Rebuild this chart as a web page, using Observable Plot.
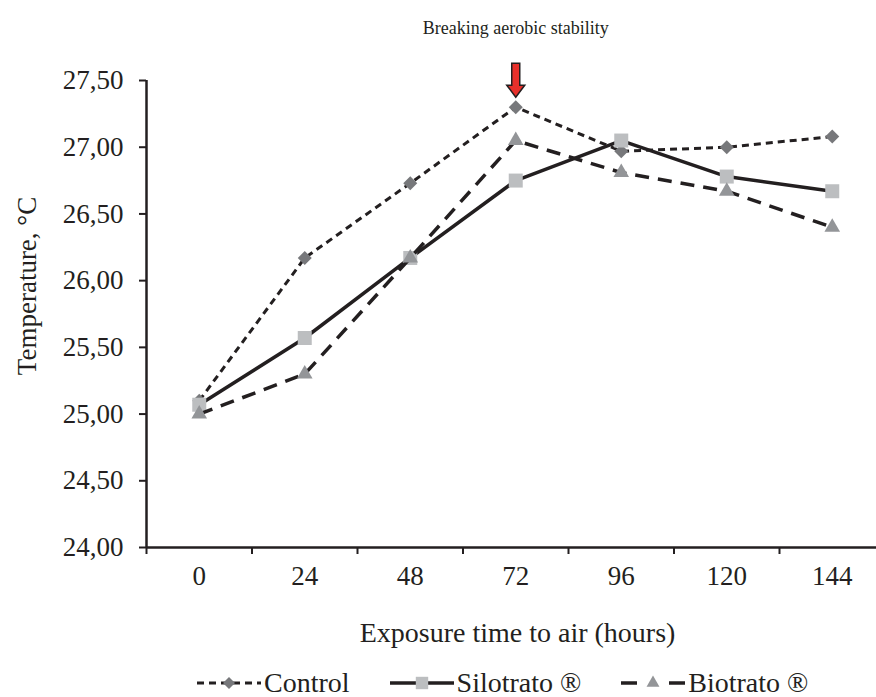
<!DOCTYPE html>
<html><head><meta charset="utf-8">
<script src="https://cdn.jsdelivr.net/npm/d3@7"></script>
<script src="https://cdn.jsdelivr.net/npm/@observablehq/plot@0.6"></script>
<style>
body{margin:0;background:#fff;font-family:"Liberation Serif","Times New Roman",serif;color:#231f20;}
#wrap{position:relative;width:876px;height:697px;overflow:hidden;}
#legend{position:absolute;top:667px;left:197px;display:flex;align-items:center;gap:40px;font-size:28px;line-height:32px;}
.item{display:flex;align-items:center;gap:3px;}
.item svg{display:block;}
</style></head><body><div id="wrap"><div id="chart"></div><div id="legend"></div></div>
<script>
const hours = [0, 24, 48, 72, 96, 120, 144];
const control = [25.10, 26.17, 26.73, 27.30, 26.97, 27.00, 27.08];
const silotrato = [25.07, 25.57, 26.17, 26.75, 27.05, 26.78, 26.67];
const biotrato = [25.00, 25.30, 26.17, 27.05, 26.81, 26.67, 26.40];
const seriesNames = ["Control", "Silotrato ®", "Biotrato ®"];
const yTicks = [24, 24.5, 25, 25.5, 26, 26.5, 27, 27.5];
const xTickBounds = [-12, 12, 36, 60, 84, 108, 132];
const annotationText = "Breaking aerobic stability";
const annotationHour = 72;
const xLabel = "Exposure time to air (hours)";
const yLabel = "Temperature, °C";

const ink = "#231f20";
const styles = [
  {name: seriesNames[0], values: control, dash: "7,5", legendDash: "7,5", sw: 3, symbol: "diamond2", r: 6.3, lr: 5.4, fill: "#77787b"},
  {name: seriesNames[1], values: silotrato, dash: null, legendDash: null, sw: 3.5, symbol: "square", r: 7.9, lr: 7, fill: "#bcbec0"},
  {name: seriesNames[2], values: biotrato, dash: "14,9", legendDash: "16,32", sw: 3.5, symbol: "triangle", r: 5.8, lr: 4.8, fill: "#939598"}
];
const peakIdx = hours.indexOf(annotationHour);
const arrowData = [{h: annotationHour, v: control[peakIdx]}];

const arrowSymbol = {
  draw(ctx) {
    const w = 4, hw = 9, hh = 12, h = 34;
    ctx.moveTo(-w, -h); ctx.lineTo(w, -h); ctx.lineTo(w, -hh); ctx.lineTo(hw, -hh);
    ctx.lineTo(0, 0); ctx.lineTo(-hw, -hh); ctx.lineTo(-w, -hh); ctx.closePath();
  }
};

const fmt = d => d3.format(".2f")(d).replace(".", ",");

const marks = [];
for (const s of styles) {
  const data = hours.map((h, i) => ({h, v: s.values[i]}));
  marks.push(Plot.line(data, {x: "h", y: "v", stroke: ink, strokeWidth: s.sw, strokeDasharray: s.dash, strokeLinecap: "butt"}));
  marks.push(Plot.dot(data, {x: "h", y: "v", symbol: s.symbol, r: s.r, fill: s.fill, stroke: "none"}));
}

const chart = Plot.plot({
  width: 876, height: 660,
  marginLeft: 146, marginRight: 0, marginTop: 80, marginBottom: 113,
  style: {fontFamily: "Liberation Serif, serif", fontSize: "27px", color: ink, background: "#fff"},
  x: {type: "linear", domain: [-12, 156], range: [146, 884.5]},
  y: {domain: [24, 27.5]},
  marks: [
    Plot.axisY(yTicks, {tickSize: 7, tickPadding: 16, tickFormat: fmt, strokeWidth: 2, stroke: ink, fill: ink, label: null, fontSize: 27}),
    Plot.axisX(xTickBounds, {tickSize: 7, tickFormat: () => "", strokeWidth: 2, stroke: ink, label: null}),
    Plot.axisX(hours, {tickSize: 0, tickPadding: 18, fill: ink, label: null, fontSize: 27}),
    Plot.ruleX([-12], {stroke: ink, strokeWidth: 2.5}),
    Plot.ruleY([24], {stroke: ink, strokeWidth: 2.5}),
    ...marks,
    Plot.dot(arrowData, {x: "h", y: "v", symbol: arrowSymbol, dy: -10, fill: "#e8302b", stroke: ink, strokeWidth: 1.5}),
    Plot.text([annotationText], {x: () => annotationHour, frameAnchor: "top", lineAnchor: "middle", dy: -52, fontSize: 18, fill: ink}),
    Plot.text([xLabel], {frameAnchor: "bottom", lineAnchor: "middle", textAnchor: "middle", dx: 6, dy: 86, fontSize: 28, fill: ink}),
    Plot.text([yLabel], {frameAnchor: "left", textAnchor: "middle", lineAnchor: "middle", rotate: -90, dx: -119, dy: -28, fontSize: 27, fill: ink})
  ]
});
document.getElementById("chart").appendChild(chart);

// legend
const legend = document.getElementById("legend");
for (const s of styles) {
  const item = document.createElement("div");
  item.className = "item";
  const w = 64, h = 22;
  const sym = d3.symbol(d3["symbol" + {diamond2: "Diamond2", square: "Square", triangle: "Triangle"}[s.symbol]], Math.PI * s.lr * s.lr)();
  item.innerHTML = `<svg width="${w}" height="${h}"><line x1="0" x2="${w}" y1="${h/2}" y2="${h/2}" stroke="${ink}" stroke-width="${s.sw}" ${s.legendDash ? `stroke-dasharray="${s.legendDash}"` : ""}/><path d="${sym}" transform="translate(${w/2},${h/2})" fill="${s.fill}"/></svg><span>${s.name}</span>`;
  legend.appendChild(item);
}
</script>
</body></html>
